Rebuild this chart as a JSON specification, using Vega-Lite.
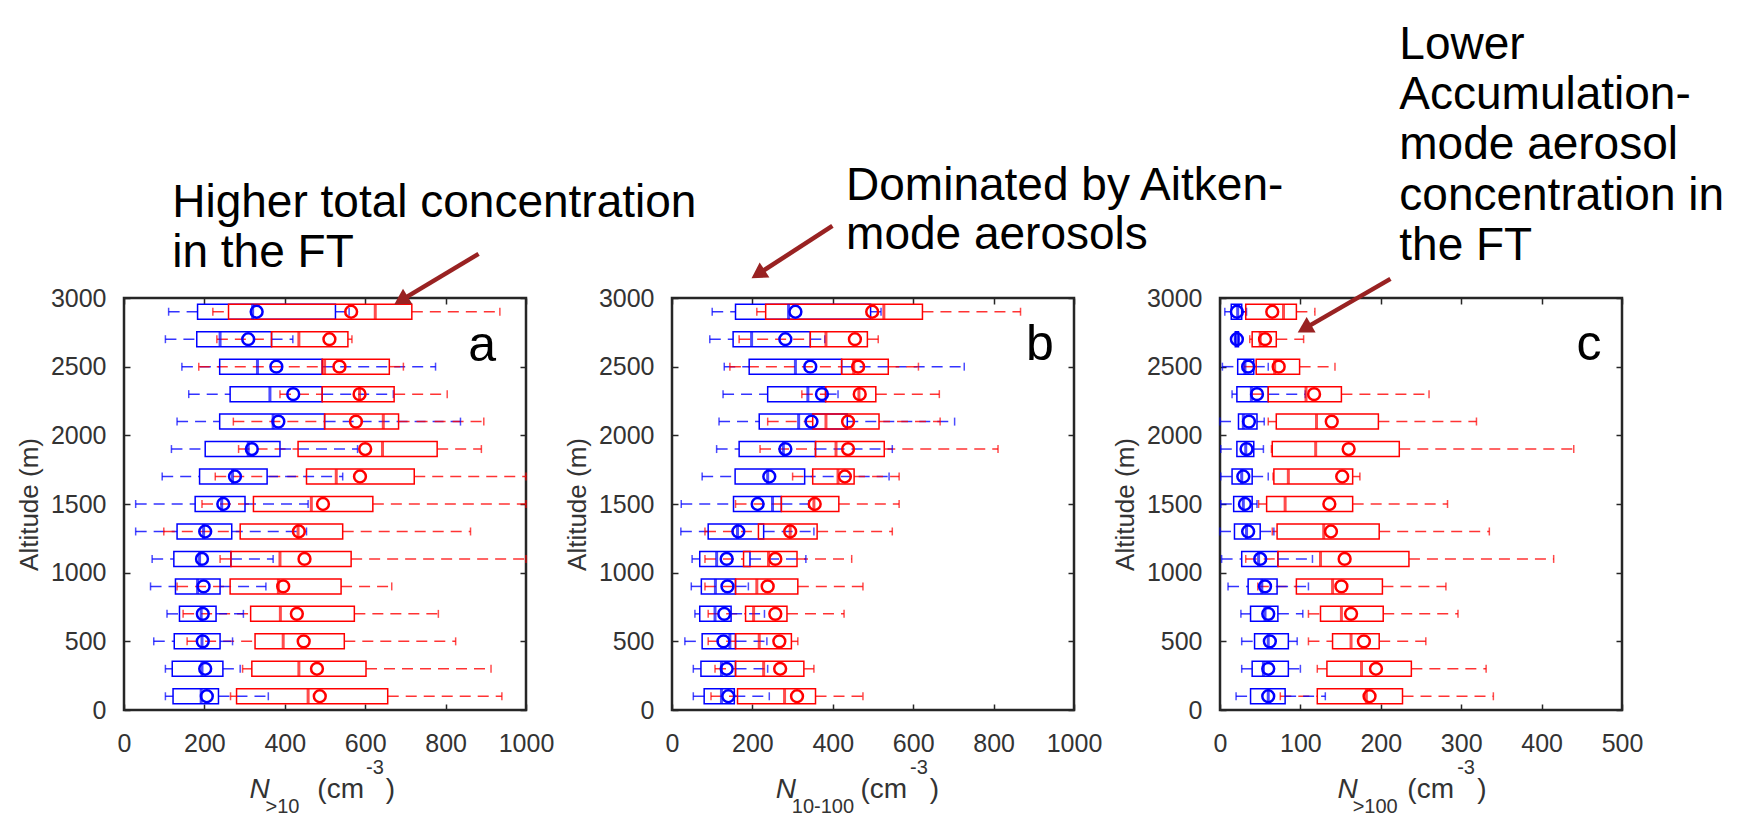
{
  "$schema": "https://vega.github.io/schema/vega-lite/v6.json",
  "padding": {"left": 15, "top": 20, "right": 5, "bottom": 2},
  "background": "white",
  "datasets": {
    "box": [
      {"p":"a","alt":2900,"s":"blue","lo":111,"q1":183,"med":320,"q3":526,"hi":560,"mean":330},
      {"p":"a","alt":2900,"s":"red","lo":221,"q1":260,"med":625,"q3":716,"hi":935,"mean":565},
      {"p":"a","alt":2700,"s":"blue","lo":103,"q1":181,"med":239,"q3":367,"hi":420,"mean":309},
      {"p":"a","alt":2700,"s":"red","lo":231,"q1":367,"med":435,"q3":557,"hi":567,"mean":511},
      {"p":"a","alt":2500,"s":"blue","lo":144,"q1":238,"med":332,"q3":493,"hi":775,"mean":379},
      {"p":"a","alt":2500,"s":"red","lo":186,"q1":493,"med":499,"q3":660,"hi":695,"mean":536},
      {"p":"a","alt":2300,"s":"blue","lo":161,"q1":264,"med":363,"q3":493,"hi":670,"mean":421},
      {"p":"a","alt":2300,"s":"red","lo":388,"q1":493,"med":586,"q3":672,"hi":804,"mean":586},
      {"p":"a","alt":2100,"s":"blue","lo":132,"q1":238,"med":371,"q3":499,"hi":837,"mean":384},
      {"p":"a","alt":2100,"s":"red","lo":272,"q1":499,"med":645,"q3":683,"hi":895,"mean":577},
      {"p":"a","alt":1900,"s":"blue","lo":118,"q1":202,"med":309,"q3":388,"hi":581,"mean":318},
      {"p":"a","alt":1900,"s":"red","lo":285,"q1":433,"med":643,"q3":779,"hi":889,"mean":600},
      {"p":"a","alt":1700,"s":"blue","lo":95,"q1":188,"med":270,"q3":356,"hi":544,"mean":276},
      {"p":"a","alt":1700,"s":"red","lo":227,"q1":454,"med":528,"q3":722,"hi":1000,"mean":587},
      {"p":"a","alt":1500,"s":"blue","lo":29,"q1":177,"med":243,"q3":301,"hi":458,"mean":247},
      {"p":"a","alt":1500,"s":"red","lo":194,"q1":322,"med":466,"q3":619,"hi":1000,"mean":495},
      {"p":"a","alt":1300,"s":"blue","lo":29,"q1":132,"med":198,"q3":268,"hi":454,"mean":202},
      {"p":"a","alt":1300,"s":"red","lo":99,"q1":289,"med":433,"q3":544,"hi":862,"mean":435},
      {"p":"a","alt":1100,"s":"blue","lo":70,"q1":124,"med":188,"q3":266,"hi":371,"mean":194},
      {"p":"a","alt":1100,"s":"red","lo":239,"q1":266,"med":388,"q3":565,"hi":1000,"mean":449},
      {"p":"a","alt":900,"s":"blue","lo":66,"q1":128,"med":183,"q3":239,"hi":353,"mean":198},
      {"p":"a","alt":900,"s":"red","lo":132,"q1":264,"med":384,"q3":540,"hi":666,"mean":396},
      {"p":"a","alt":700,"s":"blue","lo":107,"q1":138,"med":192,"q3":229,"hi":297,"mean":196},
      {"p":"a","alt":700,"s":"red","lo":147,"q1":315,"med":389,"q3":573,"hi":782,"mean":430},
      {"p":"a","alt":500,"s":"blue","lo":74,"q1":125,"med":194,"q3":239,"hi":270,"mean":196},
      {"p":"a","alt":500,"s":"red","lo":157,"q1":326,"med":396,"q3":548,"hi":825,"mean":447},
      {"p":"a","alt":300,"s":"blue","lo":103,"q1":120,"med":194,"q3":246,"hi":289,"mean":202},
      {"p":"a","alt":300,"s":"red","lo":295,"q1":318,"med":435,"q3":602,"hi":913,"mean":480},
      {"p":"a","alt":100,"s":"blue","lo":103,"q1":122,"med":192,"q3":235,"hi":359,"mean":206},
      {"p":"a","alt":100,"s":"red","lo":265,"q1":280,"med":458,"q3":656,"hi":940,"mean":487},

      {"p":"b","alt":2900,"s":"blue","lo":100,"q1":158,"med":290,"q3":494,"hi":520,"mean":307},
      {"p":"b","alt":2900,"s":"red","lo":211,"q1":233,"med":527,"q3":623,"hi":867,"mean":498},
      {"p":"b","alt":2700,"s":"blue","lo":94,"q1":152,"med":198,"q3":344,"hi":380,"mean":282},
      {"p":"b","alt":2700,"s":"red","lo":167,"q1":344,"med":383,"q3":486,"hi":513,"mean":455},
      {"p":"b","alt":2500,"s":"blue","lo":130,"q1":192,"med":307,"q3":422,"hi":727,"mean":344},
      {"p":"b","alt":2500,"s":"red","lo":144,"q1":422,"med":452,"q3":538,"hi":613,"mean":463},
      {"p":"b","alt":2300,"s":"blue","lo":127,"q1":238,"med":338,"q3":382,"hi":413,"mean":373},
      {"p":"b","alt":2300,"s":"red","lo":323,"q1":382,"med":465,"q3":507,"hi":665,"mean":467},
      {"p":"b","alt":2100,"s":"blue","lo":117,"q1":217,"med":315,"q3":436,"hi":703,"mean":347},
      {"p":"b","alt":2100,"s":"red","lo":238,"q1":350,"med":383,"q3":515,"hi":667,"mean":438},
      {"p":"b","alt":1900,"s":"blue","lo":111,"q1":167,"med":277,"q3":357,"hi":548,"mean":282},
      {"p":"b","alt":1900,"s":"red","lo":219,"q1":357,"med":408,"q3":528,"hi":811,"mean":438},
      {"p":"b","alt":1700,"s":"blue","lo":75,"q1":157,"med":238,"q3":330,"hi":540,"mean":242},
      {"p":"b","alt":1700,"s":"red","lo":300,"q1":350,"med":413,"q3":453,"hi":565,"mean":430},
      {"p":"b","alt":1500,"s":"blue","lo":23,"q1":153,"med":250,"q3":272,"hi":340,"mean":213},
      {"p":"b","alt":1500,"s":"red","lo":158,"q1":272,"med":353,"q3":415,"hi":565,"mean":355},
      {"p":"b","alt":1300,"s":"blue","lo":22,"q1":90,"med":163,"q3":228,"hi":353,"mean":165},
      {"p":"b","alt":1300,"s":"red","lo":82,"q1":215,"med":294,"q3":361,"hi":548,"mean":294},
      {"p":"b","alt":1100,"s":"blue","lo":50,"q1":69,"med":111,"q3":194,"hi":333,"mean":136},
      {"p":"b","alt":1100,"s":"red","lo":82,"q1":178,"med":240,"q3":311,"hi":447,"mean":257},
      {"p":"b","alt":900,"s":"blue","lo":48,"q1":73,"med":108,"q3":158,"hi":190,"mean":138},
      {"p":"b","alt":900,"s":"red","lo":82,"q1":158,"med":211,"q3":313,"hi":475,"mean":238},
      {"p":"b","alt":700,"s":"blue","lo":57,"q1":69,"med":107,"q3":147,"hi":230,"mean":130},
      {"p":"b","alt":700,"s":"red","lo":90,"q1":183,"med":203,"q3":286,"hi":428,"mean":257},
      {"p":"b","alt":500,"s":"blue","lo":32,"q1":75,"med":144,"q3":158,"hi":236,"mean":128},
      {"p":"b","alt":500,"s":"red","lo":90,"q1":158,"med":217,"q3":297,"hi":313,"mean":267},
      {"p":"b","alt":300,"s":"blue","lo":53,"q1":72,"med":123,"q3":158,"hi":238,"mean":136},
      {"p":"b","alt":300,"s":"red","lo":107,"q1":158,"med":228,"q3":328,"hi":353,"mean":269},
      {"p":"b","alt":100,"s":"blue","lo":53,"q1":80,"med":123,"q3":155,"hi":242,"mean":140},
      {"p":"b","alt":100,"s":"red","lo":97,"q1":163,"med":280,"q3":357,"hi":475,"mean":311},

      {"p":"c","alt":2900,"s":"blue","lo":6,"q1":14,"med":22,"q3":27,"hi":33,"mean":21},
      {"p":"c","alt":2900,"s":"red","lo":27,"q1":32,"med":79,"q3":95,"hi":118,"mean":65},
      {"p":"c","alt":2700,"s":"blue","lo":18,"q1":19,"med":21,"q3":23,"hi":24,"mean":21},
      {"p":"c","alt":2700,"s":"red","lo":37,"q1":40,"med":50,"q3":70,"hi":104,"mean":56},
      {"p":"c","alt":2500,"s":"blue","lo":3,"q1":22,"med":31,"q3":42,"hi":60,"mean":35},
      {"p":"c","alt":2500,"s":"red","lo":30,"q1":45,"med":68,"q3":99,"hi":143,"mean":73},
      {"p":"c","alt":2300,"s":"blue","lo":15,"q1":21,"med":39,"q3":60,"hi":106,"mean":46},
      {"p":"c","alt":2300,"s":"red","lo":40,"q1":60,"med":107,"q3":151,"hi":260,"mean":117},
      {"p":"c","alt":2100,"s":"blue","lo":0,"q1":23,"med":29,"q3":46,"hi":55,"mean":36},
      {"p":"c","alt":2100,"s":"red","lo":60,"q1":70,"med":120,"q3":197,"hi":319,"mean":139},
      {"p":"c","alt":1900,"s":"blue","lo":1,"q1":21,"med":32,"q3":42,"hi":54,"mean":33},
      {"p":"c","alt":1900,"s":"red","lo":64,"q1":65,"med":119,"q3":223,"hi":440,"mean":160},
      {"p":"c","alt":1700,"s":"blue","lo":1,"q1":15,"med":27,"q3":40,"hi":60,"mean":29},
      {"p":"c","alt":1700,"s":"red","lo":66,"q1":67,"med":85,"q3":165,"hi":174,"mean":152},
      {"p":"c","alt":1500,"s":"blue","lo":1,"q1":17,"med":29,"q3":40,"hi":46,"mean":31},
      {"p":"c","alt":1500,"s":"red","lo":48,"q1":58,"med":81,"q3":165,"hi":283,"mean":136},
      {"p":"c","alt":1300,"s":"blue","lo":0,"q1":18,"med":33,"q3":50,"hi":67,"mean":35},
      {"p":"c","alt":1300,"s":"red","lo":65,"q1":71,"med":129,"q3":198,"hi":335,"mean":138},
      {"p":"c","alt":1100,"s":"blue","lo":2,"q1":27,"med":48,"q3":72,"hi":115,"mean":50},
      {"p":"c","alt":1100,"s":"red","lo":32,"q1":72,"med":125,"q3":235,"hi":415,"mean":155},
      {"p":"c","alt":900,"s":"blue","lo":10,"q1":35,"med":52,"q3":71,"hi":110,"mean":56},
      {"p":"c","alt":900,"s":"red","lo":47,"q1":95,"med":140,"q3":202,"hi":281,"mean":151},
      {"p":"c","alt":700,"s":"blue","lo":26,"q1":38,"med":56,"q3":72,"hi":103,"mean":60},
      {"p":"c","alt":700,"s":"red","lo":110,"q1":125,"med":151,"q3":203,"hi":296,"mean":163},
      {"p":"c","alt":500,"s":"blue","lo":27,"q1":43,"med":60,"q3":85,"hi":96,"mean":62},
      {"p":"c","alt":500,"s":"red","lo":110,"q1":140,"med":163,"q3":198,"hi":256,"mean":179},
      {"p":"c","alt":300,"s":"blue","lo":27,"q1":40,"med":54,"q3":85,"hi":100,"mean":60},
      {"p":"c","alt":300,"s":"red","lo":121,"q1":133,"med":176,"q3":238,"hi":331,"mean":194},
      {"p":"c","alt":100,"s":"blue","lo":20,"q1":38,"med":60,"q3":81,"hi":131,"mean":60},
      {"p":"c","alt":100,"s":"red","lo":75,"q1":121,"med":182,"q3":227,"hi":340,"mean":186}
    ]
  },
  "hconcat": [
    {
      "width": 402, "height": 412,
      "layer": [
        {
          "layer": [
            {
              "data": {"name": "box"},
              "transform": [{"filter": "datum.p == 'a'"}],
              "encoding": {
                "y": {"field": "alt", "type": "quantitative", "title": "Altitude (m)", "scale": {"domain": [0, 3000], "nice": false, "zero": false, "padding": 0}, "axis": {"values": [0,500,1000,1500,2000,2500,3000]}},
                "color": {"field": "s", "type": "nominal", "scale": {"domain": ["blue","red"], "range": ["#0000ff","#ff0000"]}, "legend": null}
              },
              "layer": [
                {"mark": {"type": "rule", "strokeDash": [11,7], "strokeWidth": 1.5, "opacity": 0.8}, "encoding": {"x": {"field": "lo", "type": "quantitative", "title": null, "scale": {"domain": [0, 1000], "nice": false, "zero": false, "padding": 0}, "axis": {"values": [0,200,400,600,800,1000]}}, "x2": {"field": "q1"}}},
                {"mark": {"type": "rule", "strokeDash": [11,7], "strokeWidth": 1.5, "opacity": 0.8}, "encoding": {"x": {"field": "q3", "type": "quantitative", "title": null, "scale": {"domain": [0, 1000]}}, "x2": {"field": "hi"}}},
                {"mark": {"type": "tick", "orient": "vertical", "size": 8, "thickness": 1.5}, "encoding": {"x": {"field": "lo", "type": "quantitative", "title": null, "scale": {"domain": [0, 1000]}}}},
                {"mark": {"type": "tick", "orient": "vertical", "size": 8, "thickness": 1.5}, "encoding": {"x": {"field": "hi", "type": "quantitative", "title": null, "scale": {"domain": [0, 1000]}}}},
                {"mark": {"type": "bar", "filled": false, "height": 15, "strokeWidth": 1.5}, "encoding": {"x": {"field": "q1", "type": "quantitative", "title": null, "scale": {"domain": [0, 1000]}}, "x2": {"field": "q3"}}},
                {"mark": {"type": "tick", "orient": "vertical", "size": 15, "thickness": 3}, "encoding": {"x": {"field": "med", "type": "quantitative", "title": null, "scale": {"domain": [0, 1000]}}}},
                {"mark": {"type": "point", "shape": "circle", "filled": false, "size": 140, "strokeWidth": 2.5, "opacity": 1}, "encoding": {"x": {"field": "mean", "type": "quantitative", "title": null, "scale": {"domain": [0, 1000]}}}}
              ]
            },
            {
              "data": {"values": [
                {"val": 120, "alt": 3590, "t": "Higher total concentration"},
                {"val": 120, "alt": 3225, "t": "in the FT"}
              ]},
              "mark": {"type": "text", "align": "left", "baseline": "alphabetic", "fontSize": 46, "color": "#000000"},
              "encoding": {"x": {"field": "val", "type": "quantitative", "title": null, "scale": {"domain": [0, 1000]}}, "y": {"field": "alt", "type": "quantitative", "title": "Altitude (m)", "scale": {"domain": [0, 3000]}}, "text": {"field": "t"}}
            },
            {
              "data": {"values": [{"val": 891, "alt": 2542, "t": "a"}]},
              "mark": {"type": "text", "align": "center", "baseline": "alphabetic", "fontSize": 50, "color": "#000000"},
              "encoding": {"x": {"field": "val", "type": "quantitative", "title": null, "scale": {"domain": [0, 1000]}}, "y": {"field": "alt", "type": "quantitative", "title": "Altitude (m)", "scale": {"domain": [0, 3000]}}, "text": {"field": "t"}}
            },
            {
              "data": {"values": [{"val": 882, "alt": 3321, "val2": 689, "alt2": 2983}]},
              "mark": {"type": "rule", "strokeWidth": 4.5, "color": "#992222"},
              "encoding": {"x": {"field": "val", "type": "quantitative", "title": null, "scale": {"domain": [0, 1000]}}, "y": {"field": "alt", "type": "quantitative", "title": "Altitude (m)", "scale": {"domain": [0, 3000]}}, "x2": {"field": "val2"}, "y2": {"field": "alt2"}}
            },
            {
              "data": {"values": [{"val": 689, "alt": 2983}]},
              "mark": {"type": "point", "shape": "triangle-up", "filled": true, "size": 320, "angle": 239, "color": "#992222", "opacity": 1},
              "encoding": {"x": {"field": "val", "type": "quantitative", "title": null, "scale": {"domain": [0, 1000]}}, "y": {"field": "alt", "type": "quantitative", "title": "Altitude (m)", "scale": {"domain": [0, 3000]}}}
            },
            {
              "data": {"values": [{"val": 312, "alt": -641, "t": "N"}]},
              "mark": {"type": "text", "align": "left", "baseline": "alphabetic", "fontSize": 28, "fontStyle": "italic", "color": "#333333"},
              "encoding": {"x": {"field": "val", "type": "quantitative", "title": null, "scale": {"domain": [0, 1000]}}, "y": {"field": "alt", "type": "quantitative", "title": "Altitude (m)", "scale": {"domain": [0, 3000]}}, "text": {"field": "t"}}
            },
            {
              "data": {"values": [{"val": 481, "alt": -641, "t": "(cm"}, {"val": 651, "alt": -641, "t": ")"}]},
              "mark": {"type": "text", "align": "left", "baseline": "alphabetic", "fontSize": 28, "color": "#333333"},
              "encoding": {"x": {"field": "val", "type": "quantitative", "title": null, "scale": {"domain": [0, 1000]}}, "y": {"field": "alt", "type": "quantitative", "title": "Altitude (m)", "scale": {"domain": [0, 3000]}}, "text": {"field": "t"}}
            },
            {
              "data": {"values": [{"val": 352, "alt": -751, "t": ">10"}, {"val": 602, "alt": -467, "t": "-3"}]},
              "mark": {"type": "text", "align": "left", "baseline": "alphabetic", "fontSize": 20, "color": "#333333"},
              "encoding": {"x": {"field": "val", "type": "quantitative", "title": null, "scale": {"domain": [0, 1000]}}, "y": {"field": "alt", "type": "quantitative", "title": "Altitude (m)", "scale": {"domain": [0, 3000]}}, "text": {"field": "t"}}
            }
          ]
        },
        {
          "data": {"values": [{"val": 0, "alt": 0}]},
          "mark": {"type": "point", "opacity": 0},
          "encoding": {
            "x": {"field": "val", "type": "quantitative", "scale": {"domain": [0, 1000]}, "axis": {"orient": "top", "labels": false, "title": null, "values": [0,200,400,600,800,1000]}},
            "y": {"field": "alt", "type": "quantitative", "scale": {"domain": [0, 3000]}, "axis": {"orient": "right", "labels": false, "title": null, "values": [0,500,1000,1500,2000,2500,3000]}}
          }
        }
      ],
      "resolve": {"axis": {"x": "independent", "y": "independent"}}
    },
    {
      "width": 402, "height": 412,
      "layer": [
        {
          "layer": [
            {
              "data": {"name": "box"},
              "transform": [{"filter": "datum.p == 'b'"}],
              "encoding": {
                "y": {"field": "alt", "type": "quantitative", "title": "Altitude (m)", "scale": {"domain": [0, 3000], "nice": false, "zero": false, "padding": 0}, "axis": {"values": [0,500,1000,1500,2000,2500,3000]}},
                "color": {"field": "s", "type": "nominal", "scale": {"domain": ["blue","red"], "range": ["#0000ff","#ff0000"]}, "legend": null}
              },
              "layer": [
                {"mark": {"type": "rule", "strokeDash": [11,7], "strokeWidth": 1.5, "opacity": 0.8}, "encoding": {"x": {"field": "lo", "type": "quantitative", "title": null, "scale": {"domain": [0, 1000], "nice": false, "zero": false, "padding": 0}, "axis": {"values": [0,200,400,600,800,1000]}}, "x2": {"field": "q1"}}},
                {"mark": {"type": "rule", "strokeDash": [11,7], "strokeWidth": 1.5, "opacity": 0.8}, "encoding": {"x": {"field": "q3", "type": "quantitative", "title": null, "scale": {"domain": [0, 1000]}}, "x2": {"field": "hi"}}},
                {"mark": {"type": "tick", "orient": "vertical", "size": 8, "thickness": 1.5}, "encoding": {"x": {"field": "lo", "type": "quantitative", "title": null, "scale": {"domain": [0, 1000]}}}},
                {"mark": {"type": "tick", "orient": "vertical", "size": 8, "thickness": 1.5}, "encoding": {"x": {"field": "hi", "type": "quantitative", "title": null, "scale": {"domain": [0, 1000]}}}},
                {"mark": {"type": "bar", "filled": false, "height": 15, "strokeWidth": 1.5}, "encoding": {"x": {"field": "q1", "type": "quantitative", "title": null, "scale": {"domain": [0, 1000]}}, "x2": {"field": "q3"}}},
                {"mark": {"type": "tick", "orient": "vertical", "size": 15, "thickness": 3}, "encoding": {"x": {"field": "med", "type": "quantitative", "title": null, "scale": {"domain": [0, 1000]}}}},
                {"mark": {"type": "point", "shape": "circle", "filled": false, "size": 140, "strokeWidth": 2.5, "opacity": 1}, "encoding": {"x": {"field": "mean", "type": "quantitative", "title": null, "scale": {"domain": [0, 1000]}}}}
              ]
            },
            {
              "data": {"values": [
                {"val": 433, "alt": 3710, "t": "Dominated by Aitken-"},
                {"val": 433, "alt": 3360, "t": "mode aerosols"}
              ]},
              "mark": {"type": "text", "align": "left", "baseline": "alphabetic", "fontSize": 46, "color": "#000000"},
              "encoding": {"x": {"field": "val", "type": "quantitative", "title": null, "scale": {"domain": [0, 1000]}}, "y": {"field": "alt", "type": "quantitative", "title": "Altitude (m)", "scale": {"domain": [0, 3000]}}, "text": {"field": "t"}}
            },
            {
              "data": {"values": [{"val": 915, "alt": 2549, "t": "b"}]},
              "mark": {"type": "text", "align": "center", "baseline": "alphabetic", "fontSize": 50, "color": "#000000"},
              "encoding": {"x": {"field": "val", "type": "quantitative", "title": null, "scale": {"domain": [0, 1000]}}, "y": {"field": "alt", "type": "quantitative", "title": "Altitude (m)", "scale": {"domain": [0, 3000]}}, "text": {"field": "t"}}
            },
            {
              "data": {"values": [{"val": 399, "alt": 3525, "val2": 214, "alt2": 3174}]},
              "mark": {"type": "rule", "strokeWidth": 4.5, "color": "#992222"},
              "encoding": {"x": {"field": "val", "type": "quantitative", "title": null, "scale": {"domain": [0, 1000]}}, "y": {"field": "alt", "type": "quantitative", "title": "Altitude (m)", "scale": {"domain": [0, 3000]}}, "x2": {"field": "val2"}, "y2": {"field": "alt2"}}
            },
            {
              "data": {"values": [{"val": 214, "alt": 3174}]},
              "mark": {"type": "point", "shape": "triangle-up", "filled": true, "size": 320, "angle": 237, "color": "#992222", "opacity": 1},
              "encoding": {"x": {"field": "val", "type": "quantitative", "title": null, "scale": {"domain": [0, 1000]}}, "y": {"field": "alt", "type": "quantitative", "title": "Altitude (m)", "scale": {"domain": [0, 3000]}}}
            },
            {
              "data": {"values": [{"val": 258, "alt": -641, "t": "N"}]},
              "mark": {"type": "text", "align": "left", "baseline": "alphabetic", "fontSize": 28, "fontStyle": "italic", "color": "#333333"},
              "encoding": {"x": {"field": "val", "type": "quantitative", "title": null, "scale": {"domain": [0, 1000]}}, "y": {"field": "alt", "type": "quantitative", "title": "Altitude (m)", "scale": {"domain": [0, 3000]}}, "text": {"field": "t"}}
            },
            {
              "data": {"values": [{"val": 469, "alt": -641, "t": "(cm"}, {"val": 641, "alt": -641, "t": ")"}]},
              "mark": {"type": "text", "align": "left", "baseline": "alphabetic", "fontSize": 28, "color": "#333333"},
              "encoding": {"x": {"field": "val", "type": "quantitative", "title": null, "scale": {"domain": [0, 1000]}}, "y": {"field": "alt", "type": "quantitative", "title": "Altitude (m)", "scale": {"domain": [0, 3000]}}, "text": {"field": "t"}}
            },
            {
              "data": {"values": [{"val": 298, "alt": -751, "t": "10-100"}, {"val": 592, "alt": -467, "t": "-3"}]},
              "mark": {"type": "text", "align": "left", "baseline": "alphabetic", "fontSize": 20, "color": "#333333"},
              "encoding": {"x": {"field": "val", "type": "quantitative", "title": null, "scale": {"domain": [0, 1000]}}, "y": {"field": "alt", "type": "quantitative", "title": "Altitude (m)", "scale": {"domain": [0, 3000]}}, "text": {"field": "t"}}
            }
          ]
        },
        {
          "data": {"values": [{"val": 0, "alt": 0}]},
          "mark": {"type": "point", "opacity": 0},
          "encoding": {
            "x": {"field": "val", "type": "quantitative", "scale": {"domain": [0, 1000]}, "axis": {"orient": "top", "labels": false, "title": null, "values": [0,200,400,600,800,1000]}},
            "y": {"field": "alt", "type": "quantitative", "scale": {"domain": [0, 3000]}, "axis": {"orient": "right", "labels": false, "title": null, "values": [0,500,1000,1500,2000,2500,3000]}}
          }
        }
      ],
      "resolve": {"axis": {"x": "independent", "y": "independent"}}
    },
    {
      "width": 402, "height": 412,
      "layer": [
        {
          "layer": [
            {
              "data": {"name": "box"},
              "transform": [{"filter": "datum.p == 'c'"}],
              "encoding": {
                "y": {"field": "alt", "type": "quantitative", "title": "Altitude (m)", "scale": {"domain": [0, 3000], "nice": false, "zero": false, "padding": 0}, "axis": {"values": [0,500,1000,1500,2000,2500,3000]}},
                "color": {"field": "s", "type": "nominal", "scale": {"domain": ["blue","red"], "range": ["#0000ff","#ff0000"]}, "legend": null}
              },
              "layer": [
                {"mark": {"type": "rule", "strokeDash": [11,7], "strokeWidth": 1.5, "opacity": 0.8}, "encoding": {"x": {"field": "lo", "type": "quantitative", "title": null, "scale": {"domain": [0, 500], "nice": false, "zero": false, "padding": 0}, "axis": {"values": [0,100,200,300,400,500]}}, "x2": {"field": "q1"}}},
                {"mark": {"type": "rule", "strokeDash": [11,7], "strokeWidth": 1.5, "opacity": 0.8}, "encoding": {"x": {"field": "q3", "type": "quantitative", "title": null, "scale": {"domain": [0, 500]}}, "x2": {"field": "hi"}}},
                {"mark": {"type": "tick", "orient": "vertical", "size": 8, "thickness": 1.5}, "encoding": {"x": {"field": "lo", "type": "quantitative", "title": null, "scale": {"domain": [0, 500]}}}},
                {"mark": {"type": "tick", "orient": "vertical", "size": 8, "thickness": 1.5}, "encoding": {"x": {"field": "hi", "type": "quantitative", "title": null, "scale": {"domain": [0, 500]}}}},
                {"mark": {"type": "bar", "filled": false, "height": 15, "strokeWidth": 1.5}, "encoding": {"x": {"field": "q1", "type": "quantitative", "title": null, "scale": {"domain": [0, 500]}}, "x2": {"field": "q3"}}},
                {"mark": {"type": "tick", "orient": "vertical", "size": 15, "thickness": 3}, "encoding": {"x": {"field": "med", "type": "quantitative", "title": null, "scale": {"domain": [0, 500]}}}},
                {"mark": {"type": "point", "shape": "circle", "filled": false, "size": 140, "strokeWidth": 2.5, "opacity": 1}, "encoding": {"x": {"field": "mean", "type": "quantitative", "title": null, "scale": {"domain": [0, 500]}}}}
              ]
            },
            {
              "data": {"values": [
                {"val": 223, "alt": 4741, "t": "Lower"},
                {"val": 223, "alt": 4377, "t": "Accumulation-"},
                {"val": 223, "alt": 4013, "t": "mode aerosol"},
                {"val": 223, "alt": 3642, "t": "concentration in"},
                {"val": 223, "alt": 3277, "t": "the FT"}
              ]},
              "mark": {"type": "text", "align": "left", "baseline": "alphabetic", "fontSize": 46, "color": "#000000"},
              "encoding": {"x": {"field": "val", "type": "quantitative", "title": null, "scale": {"domain": [0, 500]}}, "y": {"field": "alt", "type": "quantitative", "title": "Altitude (m)", "scale": {"domain": [0, 3000]}}, "text": {"field": "t"}}
            },
            {
              "data": {"values": [{"val": 459, "alt": 2549, "t": "c"}]},
              "mark": {"type": "text", "align": "center", "baseline": "alphabetic", "fontSize": 50, "color": "#000000"},
              "encoding": {"x": {"field": "val", "type": "quantitative", "title": null, "scale": {"domain": [0, 500]}}, "y": {"field": "alt", "type": "quantitative", "title": "Altitude (m)", "scale": {"domain": [0, 3000]}}, "text": {"field": "t"}}
            },
            {
              "data": {"values": [{"val": 212, "alt": 3139, "val2": 105, "alt2": 2777}]},
              "mark": {"type": "rule", "strokeWidth": 4.5, "color": "#992222"},
              "encoding": {"x": {"field": "val", "type": "quantitative", "title": null, "scale": {"domain": [0, 500]}}, "y": {"field": "alt", "type": "quantitative", "title": "Altitude (m)", "scale": {"domain": [0, 3000]}}, "x2": {"field": "val2"}, "y2": {"field": "alt2"}}
            },
            {
              "data": {"values": [{"val": 105, "alt": 2777}]},
              "mark": {"type": "point", "shape": "triangle-up", "filled": true, "size": 320, "angle": 240, "color": "#992222", "opacity": 1},
              "encoding": {"x": {"field": "val", "type": "quantitative", "title": null, "scale": {"domain": [0, 500]}}, "y": {"field": "alt", "type": "quantitative", "title": "Altitude (m)", "scale": {"domain": [0, 3000]}}}
            },
            {
              "data": {"values": [{"val": 146, "alt": -641, "t": "N"}]},
              "mark": {"type": "text", "align": "left", "baseline": "alphabetic", "fontSize": 28, "fontStyle": "italic", "color": "#333333"},
              "encoding": {"x": {"field": "val", "type": "quantitative", "title": null, "scale": {"domain": [0, 500]}}, "y": {"field": "alt", "type": "quantitative", "title": "Altitude (m)", "scale": {"domain": [0, 3000]}}, "text": {"field": "t"}}
            },
            {
              "data": {"values": [{"val": 233, "alt": -641, "t": "(cm"}, {"val": 320, "alt": -641, "t": ")"}]},
              "mark": {"type": "text", "align": "left", "baseline": "alphabetic", "fontSize": 28, "color": "#333333"},
              "encoding": {"x": {"field": "val", "type": "quantitative", "title": null, "scale": {"domain": [0, 500]}}, "y": {"field": "alt", "type": "quantitative", "title": "Altitude (m)", "scale": {"domain": [0, 3000]}}, "text": {"field": "t"}}
            },
            {
              "data": {"values": [{"val": 165, "alt": -751, "t": ">100"}, {"val": 295, "alt": -467, "t": "-3"}]},
              "mark": {"type": "text", "align": "left", "baseline": "alphabetic", "fontSize": 20, "color": "#333333"},
              "encoding": {"x": {"field": "val", "type": "quantitative", "title": null, "scale": {"domain": [0, 500]}}, "y": {"field": "alt", "type": "quantitative", "title": "Altitude (m)", "scale": {"domain": [0, 3000]}}, "text": {"field": "t"}}
            }
          ]
        },
        {
          "data": {"values": [{"val": 0, "alt": 0}]},
          "mark": {"type": "point", "opacity": 0},
          "encoding": {
            "x": {"field": "val", "type": "quantitative", "scale": {"domain": [0, 500]}, "axis": {"orient": "top", "labels": false, "title": null, "values": [0,100,200,300,400,500]}},
            "y": {"field": "alt", "type": "quantitative", "scale": {"domain": [0, 3000]}, "axis": {"orient": "right", "labels": false, "title": null, "values": [0,500,1000,1500,2000,2500,3000]}}
          }
        }
      ],
      "resolve": {"axis": {"x": "independent", "y": "independent"}}
    }
  ],
  "spacing": 146,
  "bounds": "flush",
  "config": {
    "font": "Liberation Sans",
    "scale": {"continuousPadding": 0},
    "view": {"stroke": "#262626", "strokeWidth": 2.5},
    "axis": {
      "grid": false, "domain": false, "format": "d", "labelOverlap": false, "labelFlush": false,
      "labelFont": "Liberation Sans", "labelFontSize": 25, "labelColor": "#333333",
      "titleFont": "Liberation Sans", "titleFontSize": 26, "titleFontWeight": "normal", "titleColor": "#333333",
      "tickColor": "#262626", "tickSize": -6, "tickWidth": 1.5
    },
    "axisX": {"labelPadding": 27},
    "axisY": {"labelPadding": 24, "titlePadding": 8}
  }
}
